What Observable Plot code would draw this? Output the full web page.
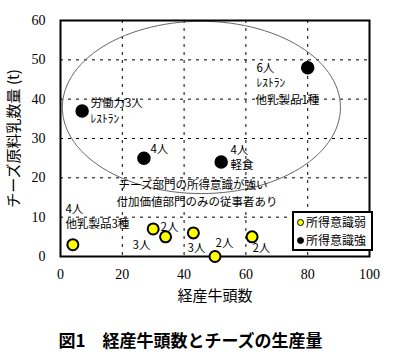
<!DOCTYPE html>
<html><head><meta charset="utf-8">
<script src="https://cdn.jsdelivr.net/npm/d3@7"></script>
<script src="https://cdn.jsdelivr.net/npm/@observablehq/plot@0.6"></script>
<style>
body{margin:0;background:#fff;}
#wrap{position:relative;width:393px;height:320px;}
#chart svg{display:block;}
g[aria-label="x-axis label"] text, g[aria-label="y-axis label"] text{font-family:"Noto Sans CJK JP",sans-serif;font-size:15px;}
#legend{position:absolute;left:292px;top:211px;width:81px;box-sizing:border-box;border:2px solid #000;background:#fff;font-family:"Noto Sans CJK JP",sans-serif;font-size:12px;padding:0 0 0 3px;white-space:nowrap;}
#legend .row{display:flex;align-items:center;height:18px;line-height:18px;}
#legend .sw{flex:none;width:5px;height:5px;border-radius:50%;border:1.5px solid #000;margin-right:2px;}
#caption{width:393px;height:39px;line-height:40px;text-align:center;font-family:"Noto Sans CJK JP",sans-serif;font-weight:bold;font-size:17px;padding-right:12px;box-sizing:border-box;}
</style></head><body>
<div id="wrap"><div id="chart"></div>
<div id="legend"></div></div>
<div id="caption">図1　経産牛頭数とチーズの生産量</div>
<script>
// Data: farms with strong income awareness (black) and weak (yellow)
const strongX = [7, 27, 52, 80];
const strongY = [37, 25, 24, 48];
const weakX = [4, 30, 34, 43, 50, 62];
const weakY = [3, 7, 5, 6, 0, 5];
const xTicks = [0, 20, 40, 60, 80, 100];
const yTicks = [0, 10, 20, 30, 40, 50, 60];
const legendNames = ["所得意識弱", "所得意識強"];
const legendColors = ["#ffff00", "#000000"];
// Annotation texts and their data positions
const noteText = ["労働力3人", "ﾚｽﾄﾗﾝ", "6人", "ﾚｽﾄﾗﾝ", "他乳製品1種", "4人", "4人", "軽食",
  "チーズ部門の所得意識が強い", "付加価値部門のみの従事者あり", "4人", "他乳製品3種",
  "2人", "3人", "3人", "2人", "2人"];
const noteX = [9.7, 9.7, 63.4, 63.4, 63.1, 29.1, 55, 55, 18.8, 18.1, 1.6, 1.6, 32.4, 23.3, 41.1, 50.2, 62.1];
const noteY = [39.0, 35.0, 47.8, 44, 39.7, 27.2, 27, 23.2, 18.1, 13.7, 12.1, 8.1, 7.4, 2.8, 2.0, 3.3, 2.0];
// Ellipse enclosing the strong group (center, radii in data units)
const ellipseCenter = [45.6, 37.9];
const ellipseRadii = [45, 21.9];

const strong = strongX.map((x, i) => ({x, y: strongY[i]}));
const weak = weakX.map((x, i) => ({x, y: weakY[i]}));
const notes = noteText.map((t, i) => ({t, x: noteX[i], y: noteY[i]}));
const ellipse = d3.range(0, 360, 3).map(a => {
  const r = a * Math.PI / 180;
  return {x: ellipseCenter[0] + ellipseRadii[0] * Math.cos(r), y: ellipseCenter[1] + ellipseRadii[1] * Math.sin(r)};
});

const chart = Plot.plot({
  width: 393, height: 320,
  marginLeft: 60, marginRight: 24, marginTop: 20, marginBottom: 64,
  style: {fontFamily: "Liberation Serif", fontSize: "14px", color: "#000", background: "#fff"},
  x: {domain: [0, 100], ticks: xTicks, tickSize: 0, tickPadding: 13, label: "経産牛頭数", labelArrow: "none", labelAnchor: "center", labelOffset: 44},
  y: {domain: [0, 60], ticks: yTicks, tickSize: 0, tickPadding: 15, label: "チーズ原料乳数量 (t)", labelArrow: "none", labelAnchor: "center", labelOffset: 52},
  marks: [
    Plot.gridX(xTicks.slice(1, -1), {stroke: "#000", strokeOpacity: 1, strokeDasharray: "3,5"}),
    Plot.gridY(yTicks.slice(1, -1), {stroke: "#000", strokeOpacity: 1, strokeDasharray: "3,5"}),
    Plot.line(ellipse, {x: "x", y: "y", curve: "linear-closed", stroke: "#666", strokeWidth: 1}),
    Plot.frame({stroke: "#000", strokeWidth: 2}),
    Plot.text(notes, {x: "x", y: "y", text: "t", textAnchor: "start", fontFamily: "Noto Sans CJK JP", fontSize: 11.5, fill: "#000"}),
    Plot.dot(strong, {x: "x", y: "y", r: 6, fill: "#000", stroke: "#000"}),
    Plot.dot(weak, {x: "x", y: "y", r: 5.5, fill: "#ffff00", stroke: "#000", strokeWidth: 2})
  ]
});
document.getElementById("chart").appendChild(chart);

const lg = document.getElementById("legend");
legendNames.forEach((n, i) => {
  const row = document.createElement("div");
  row.className = "row";
  const sw = document.createElement("span");
  sw.className = "sw";
  sw.style.background = legendColors[i];
  row.appendChild(sw);
  row.appendChild(document.createTextNode(n));
  lg.appendChild(row);
});
</script>
</body></html>
